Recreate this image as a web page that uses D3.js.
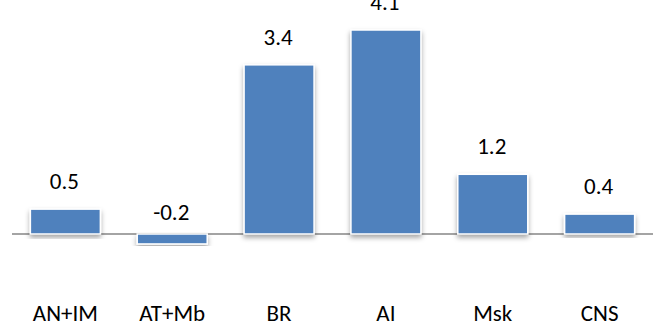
<!DOCTYPE html>
<html>
<head>
<meta charset="utf-8">
<script src="https://cdn.jsdelivr.net/npm/d3@7"></script>
<style>
  body { margin: 0; background: #fff; }
  svg text { font-family: Carlito, Lato, "Open Sans", sans-serif; fill: #000; }
</style>
</head>
<body>
<svg width="664" height="326"></svg>
<script>
var categories = ['AN+IM', 'AT+Mb', 'BR', 'AI', 'Msk', 'CNS'],
    values = [0.5, -0.2, 3.4, 4.1, 1.2, 0.4],
    labels = ['0.5', '-0.2', '3.4', '4.1', '1.2', '0.4']

var svg = d3.select('svg'),
    left = 12,
    right = 653

var x = d3.scaleBand()
    .domain(categories)
    .range([left, right])
    .paddingInner(0.345)
    .paddingOuter(0.172)

var y = d3.scaleLinear()
    .domain([0, 4.1])
    .range([234, 30])

var filter = svg.append('defs').append('filter')
    .attr('id', 'shadow')
    .attr('x', '-20%').attr('y', '-20%')
    .attr('width', '140%').attr('height', '140%')
filter.append('feDropShadow')
    .attr('dx', 0).attr('dy', 3)
    .attr('stdDeviation', 2.5)
    .attr('flood-color', '#000')
    .attr('flood-opacity', 0.35)

// zero line
svg.append('line')
    .attr('x1', left).attr('x2', right)
    .attr('y1', y(0)).attr('y2', y(0))
    .attr('stroke', '#868686')
    .attr('stroke-width', 1.5)

svg.selectAll('.bar')
    .data(values)
    .enter().append('rect')
    .attr('class', 'bar')
    .attr('x', (d, i) => x(categories[i]))
    .attr('width', x.bandwidth())
    .attr('y', d => y(Math.max(d, 0)))
    .attr('height', d => Math.abs(y(d) - y(0)))
    .attr('fill', '#4f81bd')
    .attr('stroke', '#fff')
    .attr('stroke-width', 1.5)
    .attr('filter', 'url(#shadow)')

svg.selectAll('.val')
    .data(values)
    .enter().append('text')
    .attr('class', 'val')
    .attr('x', (d, i) => x(categories[i]) + x.bandwidth() / 2 - 1)
    .attr('y', d => y(Math.max(d, 0)) - (d < 0 ? 14 : 20))
    .attr('text-anchor', 'middle')
    .style('font-size', '23px')
    .text((d, i) => labels[i])

svg.selectAll('.cat')
    .data(categories)
    .enter().append('text')
    .attr('class', 'cat')
    .attr('x', d => x(d) + x.bandwidth() / 2)
    .attr('y', 321)
    .attr('text-anchor', 'middle')
    .style('font-size', '23px')
    .text(d => d)
</script>
</body>
</html>
